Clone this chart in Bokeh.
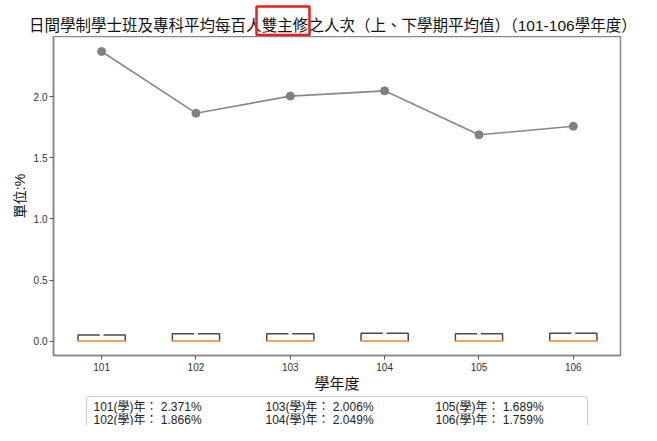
from bokeh.plotting import figure
from bokeh.layouts import column
from bokeh.models import Range1d, FixedTicker, PrintfTickFormatter, BoxAnnotation
from bokeh.core.properties import value
from bokeh.embed import file_html
from bokeh.resources import INLINE

years = [101, 102, 103, 104, 105, 106]
values = [2.371, 1.866, 2.006, 2.049, 1.689, 1.759]
box_tops = [0.05, 0.06, 0.06, 0.065, 0.06, 0.065]
title_before = "日間學制學士班及專科平均每百人"
title_mark = "雙主修"
title_after = "之人次（上、下學期平均值）（101-106學年度）"
legend_texts = [f"{y}(學)年： {v:.3f}%" for y, v in zip(years, values)]

FONT = "Liberation Sans, Noto Sans CJK TC"
W = 641
TH, MH, BH = 36, 358, 31


def blank(h):
    f = figure(width=W, height=h, output_backend="svg", toolbar_location=None,
               x_range=Range1d(0, W), y_range=Range1d(0, h),
               x_axis_type=None, y_axis_type=None, frame_align=False,
               min_border_left=0, min_border_right=0, min_border_top=0, min_border_bottom=0)
    f.xgrid.visible = False
    f.ygrid.visible = False
    f.outline_line_color = None
    return f

# ---- title strip
t = blank(TH)
ty = TH - 25
tstyle = dict(text_font=value(FONT), text_font_size="15.5px", text_color="#111111",
              text_baseline="middle")
t.text(x=[261], y=[ty], text=[title_before], text_align="right", **tstyle)
t.text(x=[284.5], y=[ty], text=[title_mark], text_align="center", **tstyle)
t.text(x=[308], y=[ty], text=[title_after], text_align="left", **tstyle)
t.add_layout(BoxAnnotation(left=256, right=309, top=TH - 6, bottom=1.5,
                           fill_alpha=0, line_color="#ee1c1c", line_alpha=1,
                           line_width=2.5))

# ---- main plot
p = figure(width=W, height=MH, output_backend="svg", toolbar_location=None,
           x_range=Range1d(100.49, 106.5), y_range=Range1d(-0.118, 2.494),
           frame_align=False,
           min_border_left=53, min_border_right=21, min_border_top=0, min_border_bottom=36)
p.xgrid.visible = False
p.ygrid.visible = False
p.outline_line_color = "#888888"
p.outline_line_width = 1.5

half = 0.25
lefts = [y - half for y in years]
rights = [y + half for y in years]
p.quad(left=lefts, right=rights, bottom=[0] * 6, top=box_tops,
       fill_color="white", line_color="#4a4a4a", line_width=1.5)
p.segment(x0=[y - 0.02 for y in years], x1=[y + 0.02 for y in years],
          y0=box_tops, y1=box_tops, line_color="white", line_width=2)
p.segment(x0=lefts, x1=rights, y0=[0] * 6, y1=[0] * 6, line_color="#f7a256", line_width=2)

p.line(years, values, line_color="#888888", line_width=1.6)
p.scatter(years, values, size=8, fill_color="#808080", line_color="#808080")

for ax in (p.xaxis[0], p.yaxis[0]):
    ax.axis_line_color = "#888888"
    ax.axis_line_width = 1.5
    ax.major_tick_line_color = "#555555"
    ax.major_tick_out = 4
    ax.major_tick_in = 0
    ax.minor_tick_line_color = None
    ax.major_label_text_font = FONT
    ax.major_label_text_font_size = "10px"
    ax.major_label_text_color = "#333333"
    ax.axis_label_text_font = FONT
    ax.axis_label_text_font_style = "normal"
    ax.axis_label_text_color = "#111111"

p.xaxis.axis_label_text_font_size = "15px"
p.yaxis.axis_label_text_font_size = "14px"
p.xaxis.ticker = FixedTicker(ticks=years)
p.yaxis.ticker = FixedTicker(ticks=[0.0, 0.5, 1.0, 1.5, 2.0])
p.yaxis.formatter = PrintfTickFormatter(format="%.1f")
p.xaxis.axis_label = "學年度"
p.yaxis.axis_label = "單位:%"
p.xaxis.axis_label_standoff = 1
p.yaxis.axis_label_standoff = 3
p.xaxis.major_label_standoff = 3
p.yaxis.major_label_standoff = 2

# ---- value table
b = blank(BH)
b.add_layout(BoxAnnotation(left=86, right=587, top=BH - 2, bottom=-10,
                           fill_alpha=0, line_color="#c8c8c8", line_alpha=1,
                           line_width=1, border_radius=3))
cols = [93, 265, 435]
rows = [BH - 12, BH - 25]
b.text(x=[cols[i // 2] for i in range(6)], y=[rows[i % 2] for i in range(6)],
       text=legend_texts, text_font=value(FONT), text_font_size="12px",
       text_color="#222222", text_align="left", text_baseline="middle")

layout = column(t, p, b, spacing=0)
open("out.html", "w").write(file_html(layout, INLINE))
